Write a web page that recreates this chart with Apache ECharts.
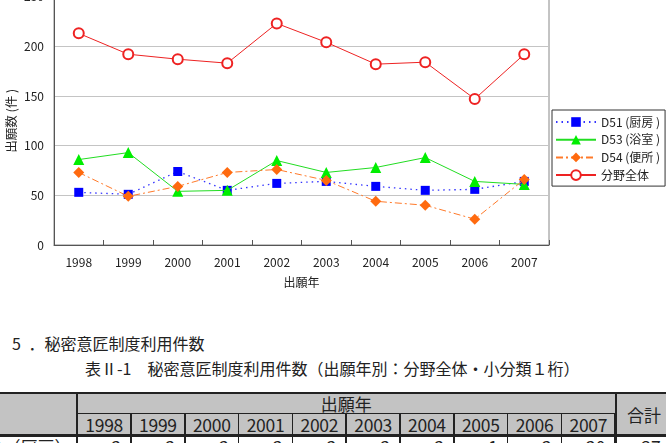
<!DOCTYPE html>
<html><head><meta charset="utf-8">
<script src="https://cdn.jsdelivr.net/npm/echarts@6/dist/echarts.min.js"></script>
<style>
html,body{margin:0;padding:0;background:#fff;width:666px;height:443px;overflow:hidden;font-family:"Noto Sans CJK JP","Noto Sans",sans-serif;color:#222;}
#chart{position:absolute;left:0;top:0;width:666px;height:300px;}
.t{position:absolute;white-space:nowrap;font-size:16px;line-height:20px;}
.cell{position:absolute;box-sizing:border-box;font-size:16px;display:flex;align-items:center;justify-content:center;white-space:nowrap;}
</style></head><body>
<div id="chart"></div>
<div id="below"></div>
<script>
const years = ['1998','1999','2000','2001','2002','2003','2004','2005','2006','2007'];
const d51 = [53, 51, 74, 55, 62, 64, 59, 55, 56, 64];
const d53 = [86, 93, 54, 55, 85, 73, 78, 88, 64, 61];
const d54 = [73, 49, 59, 73, 76, 65, 44, 40, 26, 66];
const total = [213, 192, 187, 183, 223, 204, 182, 184, 147, 192];
const seriesNames = ['D51 (厨房 )', 'D53 (浴室 )', 'D54 (便所 )', '分野全体'];
const yTicks = [0, 50, 100, 150, 200, 250];
const tableRowLabel = 'D51（厨房）';
const tableRowValues = [2, 2, 2, 2, 2, 2, 2, 1, 2, 20];
const tableRowTotal = 37;

const chart = echarts.init(document.getElementById('chart'), null, {renderer:'canvas'});
const font = '"Noto Sans CJK JP","Noto Sans",sans-serif';
chart.setOption({
  animation:false,
  backgroundColor:'#fff',
  textStyle:{fontFamily:font},
  grid:{left:54, top:-3.4, width:495, height:248.4, show:true, borderColor:'#888', borderWidth:1,
        backgroundColor:'transparent', containLabel:false, outerBoundsMode:'none'},
  legend:{
    orient:'vertical', left:552, top:110, padding:[6,5,5,3], itemGap:5.7,
    itemWidth:40, itemHeight:12, borderColor:'#333', borderWidth:1, backgroundColor:'#fff',
    textStyle:{fontSize:12, color:'#222', fontFamily:font, padding:[0,0,0,0]},
    data:seriesNames
  },
  xAxis:{
    type:'category', data:years, boundaryGap:true,
    name:'出願年', nameLocation:'middle', nameGap:31, nameMoveOverlap:false,
    nameTextStyle:{fontSize:12, color:'#222', fontFamily:font},
    axisLine:{lineStyle:{color:'#555', width:1}},
    axisTick:{show:true, inside:true, length:5, lineStyle:{color:'#555'}},
    axisLabel:{fontSize:12, color:'#222', margin:11, fontFamily:font},
    splitLine:{show:false}
  },
  yAxis:{
    type:'value', min:yTicks[0], max:yTicks[yTicks.length-1], interval:50,
    name:'出願数 (件 )', nameLocation:'middle', nameGap:36, nameRotate:90, nameMoveOverlap:false,
    nameTextStyle:{fontSize:12.5, color:'#222', fontFamily:font},
    axisLine:{show:true, lineStyle:{color:'#555', width:1}},
    axisTick:{show:false},
    axisLabel:{fontSize:12, color:'#222', margin:10, fontFamily:font},
    splitLine:{show:true, lineStyle:{color:'#c4c4c4', width:1}}
  },
  series:[
    {name:seriesNames[0], type:'line', data:d51, symbol:'rect', symbolSize:9,
     itemStyle:{color:'#0000ff'}, lineStyle:{color:'#3333ff', width:1.3, type:[1.5,4]}, z:2},
    {name:seriesNames[1], type:'line', data:d53, symbol:'triangle', symbolSize:11,
     itemStyle:{color:'#00ee00'}, lineStyle:{color:'#22dd22', width:1}, z:3},
    {name:seriesNames[2], type:'line', data:d54, symbol:'diamond', symbolSize:11,
     itemStyle:{color:'#ff6a0f'}, lineStyle:{color:'#ff7a2a', width:1, type:[7,3,2,3]}, z:4},
    {name:seriesNames[3], type:'line', data:total, symbol:'emptyCircle', symbolSize:10,
     itemStyle:{color:'#ee2222', borderWidth:1}, lineStyle:{color:'#ee2222', width:1}, z:5}
  ]
});

// Text and table below the chart
const below = document.getElementById('below');
function addText(txt, x, yc, extra){
  const d = document.createElement('div');
  d.className = 't'; d.textContent = txt;
  d.style.left = x + 'px'; d.style.top = (yc - 10) + 'px';
  if (extra) Object.assign(d.style, extra);
  below.appendChild(d);
}
addText('5 ．秘密意匠制度利用件数', 12, 343, {wordSpacing:'4px'});
addText('表Ⅱ-1　秘密意匠制度利用件数（出願年別：分野全体・小分類１桁）', 85, 368);

const colStart = 77, colW = 53.8, firstLeft = -3;
const r0 = 392, r1 = 413.5, r2 = 435, r3 = 458;
const lastRight = colStart + colW * (years.length + 1);
function cell(x1, y1, x2, y2, txt, opts){
  const d = document.createElement('div');
  d.className = 'cell';
  d.style.left = x1 + 'px'; d.style.top = y1 + 'px';
  d.style.width = (x2 - x1) + 'px'; d.style.height = (y2 - y1) + 'px';
  d.style.border = '1px solid #222';
  if (opts) Object.assign(d.style, opts);
  d.textContent = txt || '';
  below.appendChild(d);
  return d;
}
const gray = '#c3c3c3';
// header
cell(firstLeft, r0, colStart + 0.5, r2, '', {background:gray, borderTopWidth:'2px', borderRightWidth:'2px'});
cell(colStart, r0, colStart + colW*years.length + 0.5, r1, '出願年', {background:gray, borderTopWidth:'2px', fontSize:'17px'});
years.forEach((y, i) => {
  cell(colStart + colW*i, r1 - 0.5, colStart + colW*(i+1) + 0.5, r2, y, {background:gray, fontSize:'17.5px', letterSpacing:'-0.3px'});
});
cell(colStart + colW*years.length, r0, lastRight + 3, r2, '合計', {background:gray, borderTopWidth:'2px', borderLeftWidth:'2px', fontSize:'17px'});
// first data row
cell(firstLeft, r2 - 0.5, colStart + 0.5, r3, tableRowLabel, {justifyContent:'flex-end', paddingRight:'4px', borderTopWidth:'2px', borderRightWidth:'2px', fontSize:'17px'});
tableRowValues.forEach((v, i) => {
  cell(colStart + colW*i, r2 - 0.5, colStart + colW*(i+1) + 0.5, r3, String(v), {justifyContent:'flex-end', paddingRight:'9px', borderTopWidth:'2px', fontSize:'17.5px'});
});
cell(colStart + colW*years.length, r2 - 0.5, lastRight + 3, r3, String(tableRowTotal), {justifyContent:'flex-end', paddingRight:'10px', borderTopWidth:'2px', borderLeftWidth:'2px', fontSize:'17.5px'});
</script>
</body></html>
